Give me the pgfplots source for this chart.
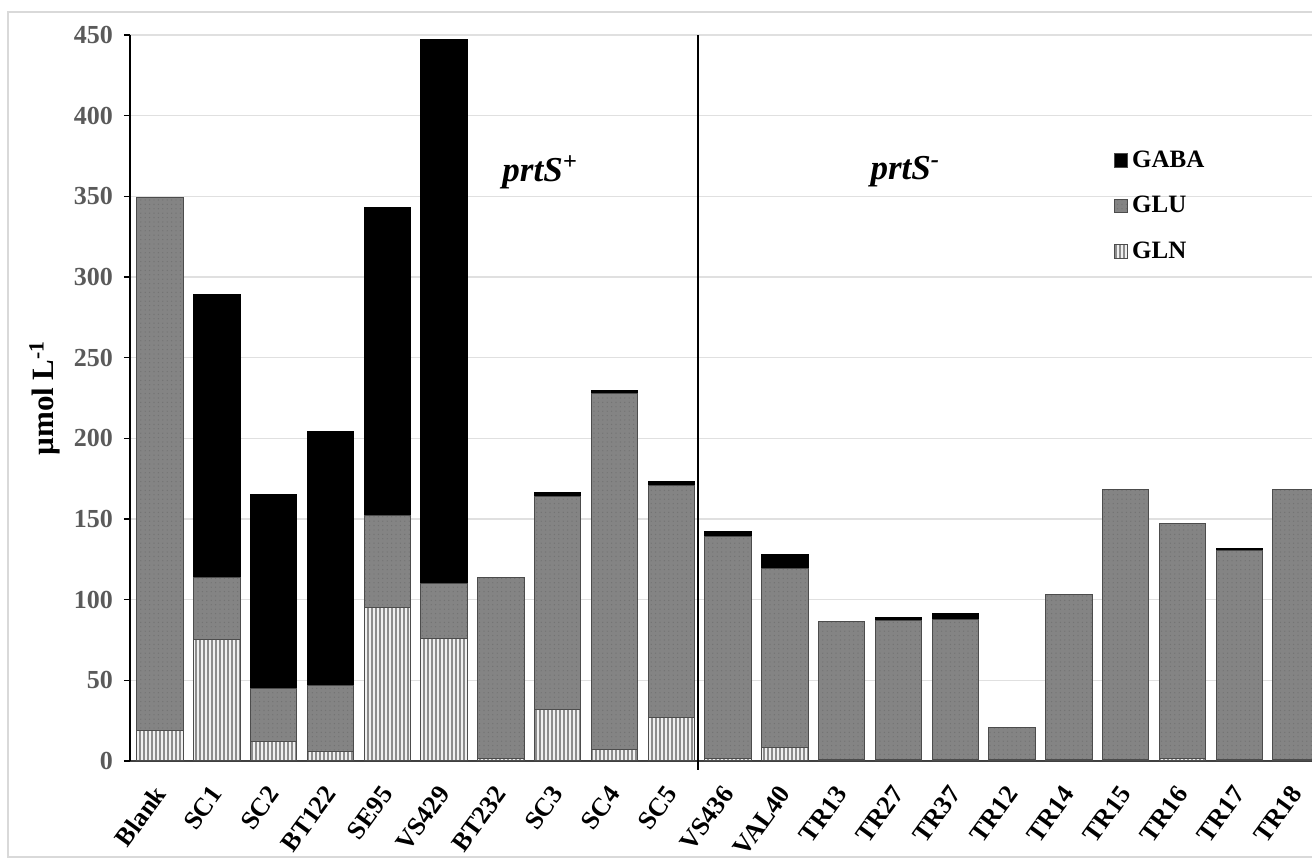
\documentclass[border=0pt]{standalone}
\usepackage{fontspec}
\setmainfont{Liberation Serif}
\usepackage{pgfplots}
\pgfplotsset{compat=1.18}
\usetikzlibrary{patterns.meta}

\definecolor{glu}{RGB}{132,132,132}
\definecolor{tickgray}{RGB}{90,90,90}

\begin{document}
\begin{tikzpicture}
\begin{axis}[
  name=ax,
  scale only axis,
  width=591pt, height=363pt,
  ybar stacked,
  bar width=0.82,
  xmin=-0.53, xmax=20.28,
  ymin=0, ymax=450,
  ytick={0,50,...,450},
  xtick={0,...,20},
  xticklabels={Blank,SC1,SC2,BT122,SE95,VS429,BT232,SC3,SC4,SC5,VS436,VAL40,TR13,TR27,TR37,TR12,TR14,TR15,TR16,TR17,TR18},
  axis x line*=bottom,
  axis y line*=left,
  x axis line style={draw=black!75, line width=1pt},
  y axis line style={draw=black, line width=1.1pt},
  xtick style={draw=none},
  ytick style={draw=black, line width=0.8pt},
  tick align=outside,
  major tick length=3pt,
  ymajorgrids,
  grid style={draw=black!12, line width=0.8pt},
  /pgf/number format/assume math mode=true,
  yticklabel style={font=\bfseries\fontsize{13}{15}\selectfont, text=tickgray},
  xticklabel style={font=\bfseries\fontsize{13}{15}\selectfont, rotate=54, anchor=east, inner sep=0pt},
  xticklabel shift=11pt,
  yticklabel shift=2pt,
  ylabel={µmol L\textsuperscript{-1}},
  ylabel style={font=\bfseries\fontsize{15.5}{18}\selectfont, at={(axis description cs:-0.072,0.5)}, anchor=center},
  reverse legend,
  legend style={draw=none, fill=none, at={(axis description cs:0.832,0.847)}, anchor=north west,
    font=\bfseries\fontsize{12.5}{14}\selectfont, row sep=9pt, inner sep=0pt},
  legend cell align=left,
  legend image code/.code={\draw[#1, draw=black!70, line width=0.4pt] (0pt,-3.4pt) rectangle (6.8pt,3.4pt);},
  clip=true,
]
% GLN
\addplot[fill=black!6, draw=black!70, line width=0.5pt,
  postaction={pattern={Lines[angle=90,distance=2pt,line width=0.7pt]}, pattern color=black!45}]
  coordinates {(0,19) (1,75) (2,12) (3,6) (4,95) (5,76) (6,1.5) (7,32) (8,7) (9,27) (10,1.5) (11,8.5) (12,1) (13,1) (14,1) (15,1) (16,1) (17,1) (18,1.5) (19,1) (20,1)};
% GLU
\addplot[fill=glu, draw=black!70, line width=0.5pt,
  postaction={pattern={Dots[distance=2.2pt,radius=0.35pt]}, pattern color=black!55}]
  coordinates {(0,330) (1,39) (2,33) (3,41) (4,57) (5,34) (6,112) (7,132) (8,221) (9,144) (10,137.5) (11,111) (12,85.5) (13,86) (14,87) (15,20) (16,102) (17,167.5) (18,146) (19,129.5) (20,167.5)};
% GABA
\addplot[fill=black, draw=black, line width=0.5pt]
  coordinates {(0,0) (1,175) (2,120) (3,157) (4,191) (5,337.5) (6,0) (7,2.5) (8,1.5) (9,2) (10,3) (11,8.5) (12,0) (13,2) (14,3.3) (15,0) (16,0) (17,0) (18,0) (19,1) (20,0)};
\legend{GLN,GLU,GABA}
\coordinate (dtop) at (axis cs:9.47,450);
\coordinate (dbot) at (axis cs:9.47,0);
\node[font=\bfseries\itshape\fontsize{17.5}{20}\selectfont] at (axis cs:6.69,365) {prtS\textsuperscript{+}};
\node[font=\bfseries\itshape\fontsize{17.5}{20}\selectfont] at (axis cs:13.12,365) {prtS\textsuperscript{-}};
\end{axis}
\draw[black, line width=1.4pt] ([yshift=-4.5pt]dbot) -- (dtop);
\draw[black!15, line width=0.8pt] ([xshift=-61pt,yshift=-48pt]ax.south west) rectangle ([xshift=30pt,yshift=11.5pt]ax.north east);
\pgfresetboundingbox
\useasboundingbox ([xshift=-65pt,yshift=-49.5pt]ax.south west) rectangle ([yshift=17.5pt]ax.north east);
\end{tikzpicture}
\end{document}
